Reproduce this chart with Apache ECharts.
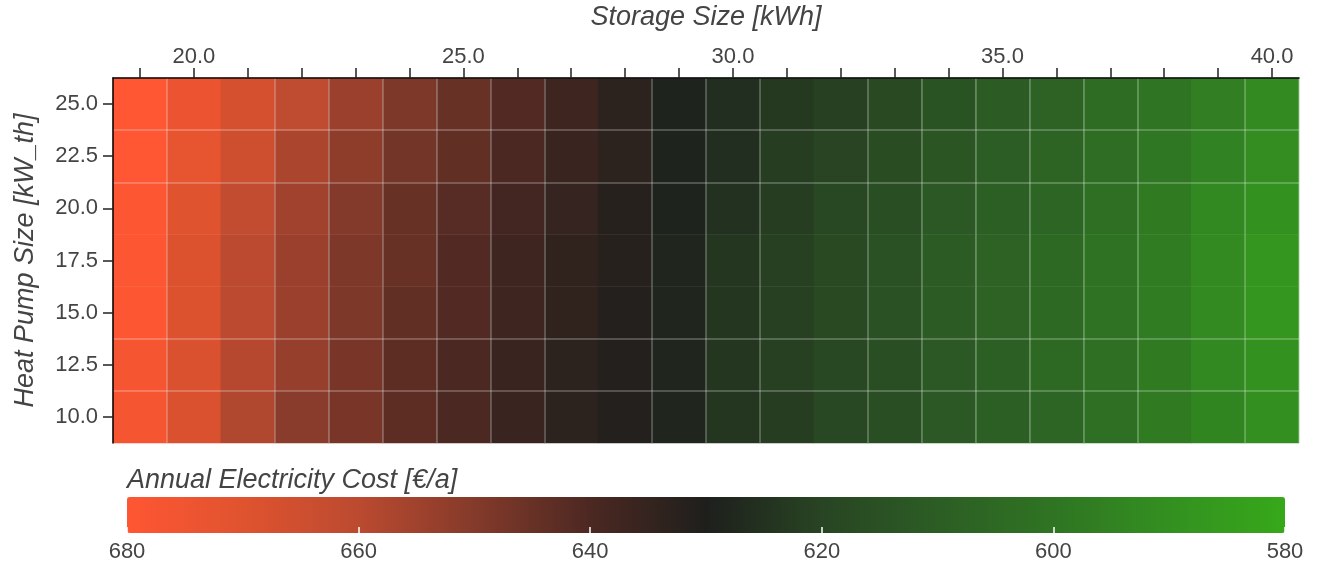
<!DOCTYPE html>
<html>
<head>
<meta charset="utf-8">
<script src="https://cdn.jsdelivr.net/npm/echarts@6/dist/echarts.min.js"></script>
<style>
  html, body { margin: 0; padding: 0; background: #ffffff; }
  #chart { width: 1317px; height: 565px; }
</style>
</head>
<body>
<div id="chart"></div>
<script>
// Storage sizes (kWh) along x, heat pump sizes (kW_th) along y
const storageSizes = [19, 20, 21, 22, 23, 24, 25, 26, 27, 28, 29, 30, 31, 32, 33, 34, 35, 36, 37, 38, 39, 40];
const heatPumpSizes = [10, 12.5, 15, 17.5, 20, 22.5, 25];

// Annual electricity cost [€/a], one row per heat pump size, columns follow storageSizes
const costHp10   = [677, 668, 658, 651, 648, 643, 640, 636, 633, 631, 628, 624, 622, 619, 616, 612, 609, 606, 602, 598, 594, 590];
const costHp12_5 = [677, 668, 659, 653, 648, 643, 640, 636, 633, 631, 628, 624, 621, 619, 616, 612, 609, 605, 602, 598, 593, 589];
const costHp15   = [679, 669, 660, 654, 649, 644, 641, 637, 634, 631, 628, 624, 621, 618, 615, 611, 608, 605, 601, 597, 592, 588];
const costHp17_5 = [679, 669, 660, 654, 649, 645, 641, 637, 634, 632, 628, 624, 621, 618, 615, 611, 608, 605, 601, 597, 592, 588];
const costHp20   = [679, 670, 662, 655, 650, 645, 642, 638, 635, 632, 629, 625, 622, 619, 616, 612, 609, 606, 602, 598, 593, 589];
const costHp22_5 = [680, 672, 665, 657, 652, 647, 644, 640, 636, 633, 629, 626, 622, 620, 617, 613, 610, 607, 603, 599, 595, 591];
const costHp25   = [680, 674, 667, 661, 654, 649, 645, 641, 637, 633, 629, 626, 623, 621, 618, 614, 611, 608, 604, 600, 596, 592];
const costRows = [costHp10, costHp12_5, costHp15, costHp17_5, costHp20, costHp22_5, costHp25];

// Colour bar range and ticks
const costMin = 580;
const costMax = 680;
const costTickStep = 20;
const costPalette = ['#37a81a', '#339020', '#2f7423', '#2c5d24', '#284423', '#1e1f1c',
                     '#4c2822', '#843a2a', '#bb4a30', '#e0532f', '#ff5633'];

const heatmapData = [];
costRows.forEach(function (row, yi) {
  row.forEach(function (v, xi) { heatmapData.push([xi, yi, v]); });
});

// Category boundaries that carry a light rule line
const xRuled = new Set([20, 22, 23, 24, 25, 26, 27, 29, 30, 31, 33, 34, 35, 36, 37, 38, 40]);
const yRuled = new Set([12.5, 15, 22.5, 25]);

const textColor = '#444444';
const fontFamily = '"Liberation Sans", Arial, Helvetica, sans-serif';

const chart = echarts.init(document.getElementById('chart'), null, { renderer: 'canvas' });

chart.setOption({
  backgroundColor: '#ffffff',
  animation: false,
  textStyle: { fontFamily: fontFamily },
  title: {
    text: 'Annual Electricity Cost [€/a]',
    left: 127,
    top: 467,
    padding: 0,
    textStyle: { fontSize: 27, fontStyle: 'italic', fontWeight: 'normal', color: textColor, fontFamily: fontFamily }
  },
  grid: [
    { left: 113, top: 78, width: 1186, height: 365, containLabel: false, outerBoundsMode: 'none' },
    { left: 127, top: 497, width: 1158, height: 36, containLabel: false, outerBoundsMode: 'none' }
  ],
  xAxis: [
    {
      gridIndex: 0,
      type: 'category',
      position: 'top',
      data: storageSizes,
      z: 5,
      name: 'Storage Size [kWh]',
      nameLocation: 'middle',
      nameGap: 47,
      nameTextStyle: { fontSize: 27, fontStyle: 'italic', color: textColor },
      axisLine: { show: true, lineStyle: { color: '#000000', width: 1.5 } },
      axisTick: { show: true, interval: 0, alignWithLabel: true, length: 10, lineStyle: { color: '#222222', width: 1.5 } },
      axisLabel: {
        interval: function (i, v) { return Number(v) % 5 === 0; },
        formatter: function (v) { return Number(v).toFixed(1); },
        fontSize: 22, color: textColor, margin: 10
      },
      splitLine: {
        show: true,
        interval: function (i, v) { return xRuled.has(Number(v)); },
        lineStyle: { color: 'rgba(255,255,255,0.3)', width: 1.5 }
      }
    },
    {
      gridIndex: 1,
      type: 'value',
      min: costMin,
      max: costMax,
      interval: costTickStep,
      inverse: true,
      position: 'bottom',
      z: 6,
      axisLine: { show: false },
      axisTick: { show: true, inside: true, length: 6, lineStyle: { color: '#ffffff', width: 1.5 } },
      axisLabel: { fontSize: 22, color: textColor, margin: 8 },
      splitLine: { show: false }
    }
  ],
  yAxis: [
    {
      gridIndex: 0,
      type: 'category',
      data: heatPumpSizes,
      z: 5,
      name: 'Heat Pump Size [kW_th]',
      nameLocation: 'middle',
      nameGap: 74,
      nameTextStyle: { fontSize: 27, fontStyle: 'italic', color: textColor },
      axisLine: { show: true, lineStyle: { color: '#000000', width: 1.5 } },
      axisTick: { show: true, interval: 0, alignWithLabel: true, length: 10, lineStyle: { color: '#222222', width: 1.5 } },
      axisLabel: {
        interval: 0,
        formatter: function (v) { return Number(v).toFixed(1); },
        fontSize: 22, color: textColor, margin: 15
      },
      splitLine: {
        show: true,
        interval: function (i, v) { return yRuled.has(Number(v)); },
        lineStyle: { color: 'rgba(255,255,255,0.3)', width: 1.5 }
      }
    },
    {
      gridIndex: 1,
      type: 'value',
      show: false
    }
  ],
  visualMap: {
    type: 'continuous',
    seriesIndex: 0,
    min: costMin,
    max: costMax,
    orient: 'horizontal',
    inverse: true,
    calculable: false,
    realtime: false,
    left: 127,
    top: 497,
    padding: 0,
    z: 4,
    itemWidth: 36,
    itemHeight: 1158,
    text: null,
    showLabel: false,
    inRange: { color: costPalette }
  },
  series: [
    {
      type: 'heatmap',
      xAxisIndex: 0,
      yAxisIndex: 0,
      data: heatmapData,
      itemStyle: { borderWidth: 0 },
      emphasis: { disabled: true }
    }
  ]
});
</script>
</body>
</html>
